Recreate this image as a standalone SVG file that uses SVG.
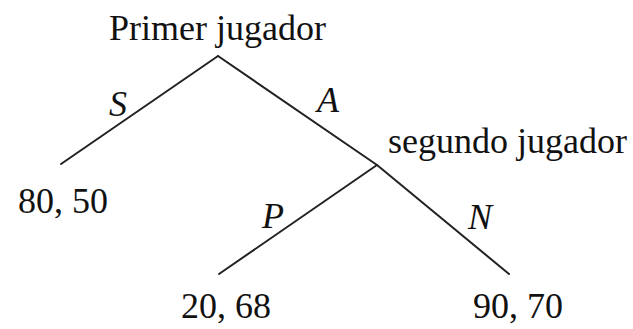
<svg xmlns="http://www.w3.org/2000/svg" width="633" height="329" viewBox="0 0 633 329">
<style>
text{font-family:'Liberation Serif',serif;font-size:36px;fill:#111}
.lbl{font-style:italic}
.edge{stroke:#222;stroke-width:2;fill:none;stroke-linecap:round}
</style>
<rect width="633" height="329" fill="#fff"/>
<g id="connectors">
<line class="edge" x1="218" y1="56" x2="61" y2="164"/>
<line class="edge" x1="218" y1="56" x2="377" y2="165"/>
<line class="edge" x1="377" y1="165" x2="219" y2="274"/>
<line class="edge" x1="377" y1="165" x2="509" y2="274"/>
<text class="lbl" x="109" y="116">S</text>
<text class="lbl" x="317" y="112">A</text>
<text class="lbl" x="262" y="228">P</text>
<text class="lbl" x="468" y="229">N</text>
</g>
<g id="node-primer"><text x="109" y="40">Primer jugador</text></g>
<g id="node-segundo"><text x="388" y="153">segundo jugador</text></g>
<g id="leaf-sale"><text x="18" y="213">80, 50</text></g>
<g id="leaf-p"><text x="181" y="318">20, 68</text></g>
<g id="leaf-n"><text x="473" y="318">90, 70</text></g>
</svg>
